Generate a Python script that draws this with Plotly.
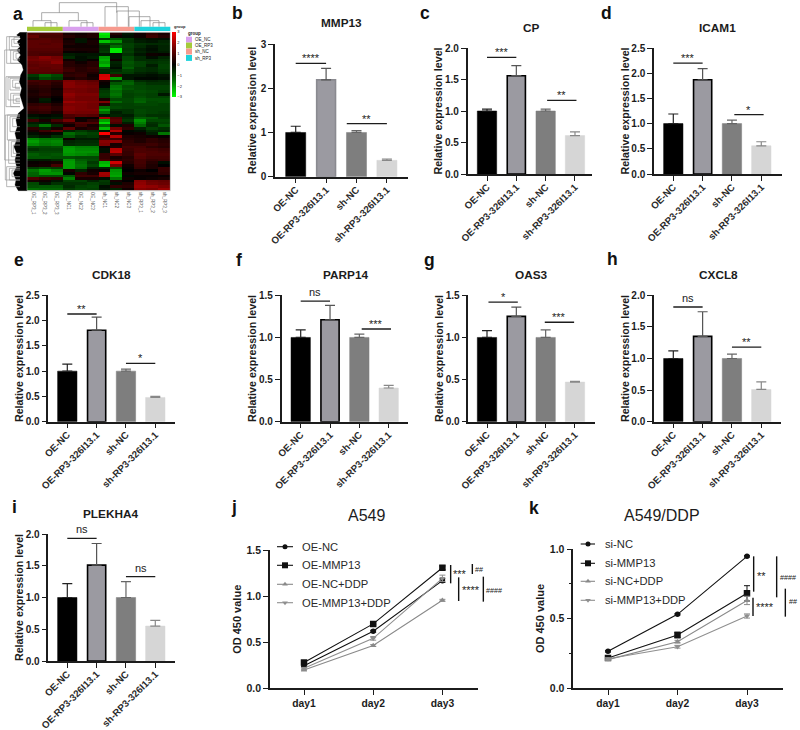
import plotly.graph_objects as go

W, H = 800, 730
FONT = "Liberation Sans"
INK = "#1c1c1c"

# ---------- data ----------
groups = ["OE-NC", "OE-RP3-326I13.1", "sh-NC", "sh-RP3-326I13.1"]

mmp13_mean = [1.0, 2.19, 1.0, 0.37]
mmp13_top = [1.14, 2.45, 1.04, 0.40]
cp_mean = [1.0, 1.56, 1.0, 0.61]
cp_top = [1.03, 1.72, 1.03, 0.67]
icam1_mean = [1.0, 1.87, 1.0, 0.56]
icam1_top = [1.19, 2.09, 1.07, 0.64]
cdk18_mean = [1.0, 1.81, 1.0, 0.48]
cdk18_top = [1.14, 2.07, 1.04, 0.50]
parp14_mean = [1.0, 1.21, 1.0, 0.40]
parp14_top = [1.09, 1.38, 1.04, 0.43]
oas3_mean = [1.0, 1.25, 1.0, 0.47]
oas3_top = [1.08, 1.36, 1.09, 0.48]
cxcl8_mean = [1.0, 1.35, 1.0, 0.51]
cxcl8_top = [1.12, 1.74, 1.07, 0.63]
plekha4_mean = [1.0, 1.51, 1.0, 0.55]
plekha4_top = [1.22, 1.85, 1.25, 0.64]

days = ["day1", "day2", "day3"]
j_names = ["OE-NC", "OE-MMP13", "OE-NC+DDP", "OE-MMP13+DDP"]
j_oe_nc = [0.246, 0.62, 1.17]
j_oe_mmp13 = [0.28, 0.70, 1.31]
j_oe_nc_ddp = [0.20, 0.465, 0.957]
j_oe_mmp13_ddp = [0.217, 0.543, 1.195]
j_err = [[0.01, 0.01, 0.02], [0.01, 0.01, 0.02], [0.01, 0.01, 0.01], [0.01, 0.02, 0.035]]

k_names = ["si-NC", "si-MMP13", "si-NC+DDP", "si-MMP13+DDP"]
k_si_nc = [0.264, 0.53, 0.947]
k_si_mmp13 = [0.216, 0.381, 0.681]
k_si_nc_ddp = [0.204, 0.333, 0.63]
k_si_mmp13_ddp = [0.211, 0.297, 0.518]
k_err = [[0.005, 0.005, 0.005], [0.01, 0.02, 0.055], [0.005, 0.01, 0.03], [0.005, 0.01, 0.015]]

heat_cols = ["OE_RP3_1", "OE_RP3_2", "OE_RP3_3", "OE_NC1", "OE_NC2", "OE_NC3",
             "sh_NC1", "sh_NC2", "sh_NC3", "sh_RP3_1", "sh_RP3_2", "sh_RP3_3"]
heat_rows = [
    [1.0,1.0,1.0,.3,.2,.4,-2.8,.5,-.3,.2,.6,.3],
    [1.3,.9,.9,.5,.3,.4,-2.6,.2,-.2,.2,.8,.5],
    [1.0,1.1,1.0,.2,-.3,.1,-.8,-1.2,-.8,-.3,-.2,-.2],
    [1.2,1.2,1.1,.3,-.3,.3,-2.4,-1.9,-.7,-.4,-.3,-.5],
    [1.2,1.1,1.2,.4,.2,.3,-1.0,-1.0,-.9,-.7,-.6,-.6],
    [1.2,1.2,1.2,.2,.2,.2,-.6,-1.5,-.9,-.6,-.3,-.5],
    [1.1,1.1,1.1,.4,.3,.3,-.7,-2.8,-.8,-.4,-.2,-.5],
    [1.0,1.0,1.0,.1,.1,.2,-.8,-2.8,-.9,-.5,-.3,-.4],
    [1.0,.9,.9,-.4,-.3,-.3,-.3,-.3,-.7,-.3,.2,.1],
    [1.4,1.7,1.5,-.6,-.2,-.4,-2.0,-.3,-1.0,-.6,-.2,-.5],
    [1.5,1.6,1.6,.2,-.2,.1,-2.2,.2,-1.0,-.6,-.6,-.7],
    [1.3,1.4,1.7,.5,.2,.5,-2.0,-.5,-1.2,-.9,-.7,-.8],
    [1.2,1.3,1.3,.5,.4,.5,-2.3,-.4,-1.1,-.9,-.4,-.9],
    [1.3,1.2,1.3,.7,.5,.7,-1.0,-.2,-1.3,-.7,-.6,-.9],
    [1.2,1.2,1.2,.8,.5,.6,-.6,-.6,-.9,-.7,-.6,-.8],
    [1.1,1.1,1.0,.5,.6,.4,-.5,-.8,-.8,-.5,-.4,-.7],
    [-.8,-1.4,-1.0,.6,.7,.2,2.5,.8,-.3,-.3,-.2,-.3],
    [-.5,-1.0,-.8,.3,.5,.3,2.6,-2.0,-.3,-.1,-.1,-.2],
    [.9,.8,.7,1.6,1.4,1.2,.3,-.6,-1.2,-.6,-.5,-.6],
    [.7,.8,.5,1.7,1.5,1.4,.1,-1.2,-1.4,-.9,-.7,-.7],
    [.5,.6,.4,1.7,1.6,1.5,-.1,-1.6,-1.1,-1.0,-.9,-.9],
    [.4,.5,.2,1.5,1.5,1.4,-.6,-1.7,-1.2,-1.0,-.9,-.9],
    [.3,.5,.3,1.6,1.5,1.4,-.8,-1.5,-1.0,-1.1,-1.0,-.8],
    [.4,.6,.3,1.8,1.6,1.6,-.9,-1.6,-.9,-1.0,-.9,-.3],
    [.3,.4,.1,1.7,1.5,1.5,-.8,-1.4,-.9,-1.1,-.9,-.9],
    [.2,-.4,.0,1.6,1.5,1.5,.3,-1.0,-1.0,-1.3,-1.1,-1.1],
    [.2,-.3,.1,1.9,1.7,1.6,1.6,-1.5,-1.0,-1.4,-1.0,-1.1],
    [.6,.7,.4,1.6,1.6,1.5,.4,-.9,-.9,-1.0,-1.0,-.9],
    [.8,.9,.6,1.7,1.6,1.5,-1.5,-1.0,-.9,-.9,-.9,-.9],
    [.7,.8,.6,1.7,1.6,1.6,-2.0,-.7,-.7,-1.0,-.9,-.9],
    [.5,.6,.3,1.6,1.5,1.5,-1.5,-.4,-.7,-1.0,-.9,-.8],
    [-.2,-.1,-.2,1.0,1.2,1.1,-.3,-.5,-.4,-.9,-.7,-.7],
    [-.5,-.3,-.4,.8,-.1,.1,2.0,1.0,-.6,-1.3,-1.2,-.8],
    [.8,.3,.9,1.5,.2,.6,-2.0,1.2,-.8,-1.9,-1.0,-1.0],
    [-.4,-.3,.4,.6,1.0,1.0,-2.6,1.0,-.4,-1.7,-.7,-.9],
    [-.7,-1.6,-.6,.2,.8,.3,-1.4,-.2,.4,-1.4,-.6,-1.2],
    [.6,-.5,.3,1.2,.3,.5,-2.3,1.5,.6,-.5,-.9,-.7],
    [.3,.8,1.2,-.5,-.8,-.6,-.3,2.2,-.1,-.2,-.6,-.5],
    [-.2,.2,-.2,-1.5,-1.1,-.9,3.0,.5,.1,.2,-.4,-1.6],
    [-.5,-.3,-.7,-1.2,-.7,-.8,.6,2.2,.4,.3,.2,.1],
    [-1.8,-1.6,-1.6,.2,-.4,-.4,.9,.8,.5,.4,.6,.4],
    [-2.0,-1.7,-1.8,-.5,-.6,-.6,1.7,1.8,.6,.4,.6,.5],
    [-1.8,-1.6,-1.7,-.6,-.7,-.7,1.6,.3,.7,.7,.8,.6],
    [-1.0,-1.0,-1.1,-1.9,-1.7,-1.7,.1,.4,.9,.9,.6,.5],
    [-.7,-.9,-.9,-2.0,-1.8,-1.8,-.2,2.2,.8,1.0,.9,.8],
    [-1.0,-1.0,-1.0,-2.0,-1.9,-1.9,-.2,2.3,.7,1.0,1.0,.9],
    [-1.3,-1.1,-1.2,-1.9,-1.8,-1.7,.7,1.2,.7,1.2,1.0,1.0],
    [-1.2,-1.2,-1.1,-1.1,-1.0,-1.0,.7,.3,.5,1.1,.9,.9],
    [-.4,-.4,-.6,-1.9,-1.3,-1.1,.9,.5,.6,.9,.7,.8],
    [.1,.2,.3,-2.0,-1.5,-.8,-2.2,2.5,.5,.9,.5,-.2],
    [.2,.3,.9,-2.0,-1.6,-1.0,-2.4,1.5,.2,.8,.4,.0],
    [-.8,-1.0,-.8,-2.0,-1.5,-.5,-.5,-1.0,.1,.7,.4,.7],
    [-1.6,-2.0,-1.7,.3,-.5,.2,.1,-1.9,.0,.2,.0,.7],
    [-1.4,-1.9,-1.9,-.1,.6,.3,2.0,-2.0,.2,.3,.3,.6],
    [-1.3,-1.1,-1.1,-1.2,.8,.8,1.9,-2.1,-.1,.1,.1,.1],
    [1.0,.7,.6,-1.7,.3,.3,-.2,-1.6,.2,.1,.2,.3],
    [.3,.2,-.3,-.9,-.9,-.5,-.8,.3,.0,1.7,1.4,1.3],
    [-1.0,-.3,-.7,-.7,-.7,-.9,-.7,-.2,.4,1.8,1.5,1.4],
    [-1.1,-1.2,-1.2,-.6,-.9,-1.0,-.2,.6,.5,1.9,1.8,1.6],
    [-1.5,-1.4,-1.4,-.8,-1.0,-.9,-.3,-.5,.2,1.7,1.6,1.9],
]
heat_groups = ["OE_NC", "OE_RP3", "sh_NC", "sh_RP3"]
heat_group_colors = ["#d9a0ee", "#a5cb3a", "#f79a8e", "#1fd3dc"]

# ---------- styling of the bar panels ----------
bar_fill = ["#000000", "#9b9aa1", "#7e7e7e", "#d6d6d6"]
bar_edge = ["#000000", "#000000", "#7e7e7e", "#d6d6d6"]
err_col = ["#222222", "#555555", "#666666", "#888888"]


def dx(a, b):
    return [a / W, b / W]


def dy(top, bottom):
    return [1 - bottom / H, 1 - top / H]


fig = go.Figure()
shapes, annos = [], []
layout = {}


def pline(x0, y0, x1, y1, color=INK, width=1.0):
    shapes.append(dict(type="line", xref="paper", yref="paper", x0=x0 / W, x1=x1 / W,
                       y0=1 - y0 / H, y1=1 - y1 / H, line=dict(color=color, width=width)))


def ptext(x, y, text, size, bold=False, color=INK, xanchor="center", angle=0):
    annos.append(dict(xref="paper", yref="paper", x=x / W, y=1 - y / H, text=f"<b>{text}</b>" if bold else text,
                      showarrow=False, xanchor=xanchor, yanchor="middle", textangle=angle,
                      font=dict(family=FONT, size=size, color=color)))


# name, mean, top, ymax, dtick, axis x, y0 px, ytop px, c0, spacing, axis end, brackets, title pos, second edge
panels = [
    ("MMP13", mmp13_mean, mmp13_top, 3, 1, 275, 176.7, 44, 295.7, 30.4, 408,
     [(0, 1, 2.56, "****"), (1.68, 3, 1.2, "**")], (341, 23), "#8a8a90"),
    ("CP", cp_mean, cp_top, 2, 0.5, 467.7, 174, 48, 487, 29.33, 591.7,
     [(0, 1, 1.85, "***"), (2.05, 3.05, 1.17, "**")], (531, 28), "#000000"),
    ("ICAM1", icam1_mean, icam1_top, 2.5, 0.5, 654, 174, 48, 673.3, 29.33, 781.7,
     [(0, 1, 2.2, "***"), (2.08, 3.08, 1.18, "*")], (717, 28), "#000000"),
    ("CDK18", cdk18_mean, cdk18_top, 2.5, 0.5, 48.3, 421.7, 295.3, 67.3, 29.33, 175,
     [(0, 1, 2.13, "**"), (2, 3, 1.155, "*")], (111, 275), "#000000"),
    ("PARP14", parp14_mean, parp14_top, 1.5, 0.5, 281.7, 421.7, 295.3, 300.7, 29.33, 408,
     [(0, 1, 1.43, "ns"), (2.08, 3.08, 1.10, "***")], (345, 275), "#000000"),
    ("OAS3", oas3_mean, oas3_top, 1.5, 0.5, 468.3, 421.7, 295.3, 487, 29.33, 594.7,
     [(0.05, 1.05, 1.42, "*"), (1.97, 2.97, 1.18, "***")], (531, 275), "#000000"),
    ("CXCL8", cxcl8_mean, cxcl8_top, 2, 0.5, 654, 421.7, 295.3, 673.3, 29.33, 781,
     [(0, 1, 1.815, "ns"), (2, 3, 1.18, "**")], (718, 275), "#000000"),
    ("PLEKHA4", plekha4_mean, plekha4_top, 2, 0.5, 48.3, 661, 534, 67.3, 29.33, 175,
     [(0, 1, 1.93, "ns"), (2, 3, 1.33, "ns")], (111, 514), "#000000"),
]

ax_id = 1
for name, mean, top, ymax, dtick, ax_x, y0, ytop, c0, sp, end, brackets, tpos, edge2 in panels:
    xn, yn = f"x{ax_id}", f"y{ax_id}"
    for i, g in enumerate(groups):
        edge = edge2 if i == 1 else bar_edge[i]
        fig.add_trace(go.Bar(
            x=[g], y=[mean[i]], xaxis=xn, yaxis=yn, width=0.66 if i != 1 else 0.62, name=f"{name} {g}",
            marker=dict(color=bar_fill[i], line=dict(color=edge, width=1.6 if i == 1 else 0.5)),
            error_y=dict(type="data", symmetric=False, array=[top[i] - mean[i]], arrayminus=[0],
                         color=err_col[i], thickness=1.2, width=5),
            showlegend=False))
    tick_fmt = "d" if dtick == 1 else ".1f"
    layout[f"xaxis{ax_id}"] = dict(
        domain=dx(ax_x, end), anchor=yn, type="category", categoryorder="array", categoryarray=groups,
        range=[(ax_x - c0) / sp, (end - c0) / sp], showgrid=False, zeroline=False,
        showline=True, linecolor=INK, linewidth=1.5, ticks="outside", ticklen=5, tickcolor=INK, tickwidth=1.3,
        tickangle=-45, ticklabelstandoff=-3, tickprefix="<b>", ticksuffix="</b>",
        tickfont=dict(family=FONT, size=9.7, color="#2a2a2a"))
    layout[f"yaxis{ax_id}"] = dict(
        domain=dy(ytop, y0), anchor=xn, range=[0, ymax], dtick=dtick, tickformat=tick_fmt, showgrid=False, zeroline=False,
        showline=True, linecolor=INK, linewidth=1.5, ticks="outside", ticklen=5, tickcolor=INK, tickwidth=1.3,
        tickfont=dict(family=FONT, size=10, color=INK), tickprefix="<b>", ticksuffix="</b>",
        title=dict(text="<b>Relative expression level</b>", standoff=0 if dtick != 1 else 2,
                   font=dict(family=FONT, size=10.7, color=INK)))
    for a, b, yv, lab in brackets:
        shapes.append(dict(type="line", xref=xn, yref=yn, x0=a, x1=b, y0=yv, y1=yv,
                           line=dict(color=INK, width=1.3)))
        ns = lab == "ns"
        annos.append(dict(xref=xn, yref=yn, x=(a + b) / 2, y=yv, text=lab, showarrow=False,
                          yanchor="bottom", yshift=1 if ns else -3,
                          font=dict(family=FONT, size=11, color="#222222")))
    ptext(tpos[0], tpos[1], name, 11.8, bold=True)
    ax_id += 1

# ---------- line panels ----------
line_col = ["#111111", "#111111", "#8a8a8a", "#8f8f8f"]
symbols = ["circle", "square", "triangle-up", "triangle-down"]
sizes = [5.5, 6.5, 5.5, 5.5]

line_panels = [
    ("A549", [j_oe_nc, j_oe_mmp13, j_oe_nc_ddp, j_oe_mmp13_ddp], j_names, j_err, 1.5, 0.5, 270, 688.3, 550.3,
     304, 69.2, 478.3, (366, 515), (277, 293), 300, [546.7, 565.3, 584.3, 602.7]),
    ("A549/DDP", [k_si_nc, k_si_mmp13, k_si_nc_ddp, k_si_mmp13_ddp], k_names, k_err, 1.0, 0.5, 573.3, 688, 549,
     608, 69.5, 782.7, (662, 515), (580.7, 595), 603.3, [544, 563.3, 581.3, 600.3]),
]
for title, series, names, errs, ymax, dtick, ax_x, y0, ytop, c0, sp, end, tpos, key, tx, ky in line_panels:
    xn, yn = f"x{ax_id}", f"y{ax_id}"
    for i, vals in enumerate(series):
        fig.add_trace(go.Scatter(
            x=days, y=vals, mode="lines+markers", xaxis=xn, yaxis=yn, name=names[i],
            line=dict(color=line_col[i], width=1.1),
            marker=dict(color=line_col[i], symbol=symbols[i], size=sizes[i]),
            error_y=dict(type="data", array=errs[i], color=line_col[i], thickness=1, width=3),
            showlegend=False))
    minor = dict(tickvals=[0.25, 0.75], ticklen=3, tickcolor=INK, ticks="outside") if ymax == 1.0 else None
    layout[f"xaxis{ax_id}"] = dict(
        domain=dx(ax_x, end), anchor=yn, type="category", categoryorder="array", categoryarray=days,
        range=[(ax_x - c0) / sp, (end - c0) / sp], showgrid=False, zeroline=False,
        showline=True, linecolor=INK, linewidth=1.5, ticks="outside", ticklen=5, tickcolor=INK, tickwidth=1.3,
        tickfont=dict(family=FONT, size=10.3, color=INK), tickprefix="<b>", ticksuffix="</b>")
    ya = dict(
        domain=dy(ytop, y0), anchor=xn, range=[0, ymax], dtick=dtick, tickformat=".1f", showgrid=False, zeroline=False,
        showline=True, linecolor=INK, linewidth=1.5, ticks="outside", ticklen=5, tickcolor=INK, tickwidth=1.3,
        tickfont=dict(family=FONT, size=10.5, color=INK), tickprefix="<b>", ticksuffix="</b>",
        title=dict(text="<b>OD 450 value</b>", standoff=3, font=dict(family=FONT, size=11, color=INK)))
    if minor:
        ya["minor"] = minor
    layout[f"yaxis{ax_id}"] = ya
    ptext(tpos[0], tpos[1], title, 16)
    # legend keys
    for i, nm in enumerate(names):
        pline(key[0], ky[i], key[1], ky[i], line_col[i], 1.1)
        ptext(tx, ky[i], nm, 11.2, xanchor="left", color="#2a2a2a")
    ax_id += 1

# legend key markers on a hidden full-figure axis
ovx, ovy = f"x{ax_id}", f"y{ax_id}"
layout[f"xaxis{ax_id}"] = dict(domain=[0, 1], range=[0, W], visible=False, anchor=ovy, fixedrange=True)
layout[f"yaxis{ax_id}"] = dict(domain=[0, 1], range=[H, 0], visible=False, anchor=ovx, fixedrange=True)
for keyx, ky in ((285, [546.7, 565.3, 584.3, 602.7]), (588, [544, 563.3, 581.3, 600.3])):
    for i in range(4):
        fig.add_trace(go.Scatter(x=[keyx], y=[ky[i]], mode="markers", xaxis=ovx, yaxis=ovy, showlegend=False,
                                 marker=dict(color=line_col[i], symbol=symbols[i], size=sizes[i] - 0.5)))

# significance bars of panels j, k
sig_j = [(692, 225, 280, "***", 721, 247), (757, 222, 252, "##", 778, 238),
         (716, 262, 333, "****", 753, 295), (790, 260, 335, "####", 822, 300)]
sig_k = [(731, 199, 305, "**", 753, 252), (800, 199, 322, "####", 833, 263),
         (729, 323, 378, "****", 764, 346), (826, 296, 380, "##", 848, 333)]
for sig, ox in ((sig_j, 220), (sig_k, 510)):
    for x, a, b, lab, tx, ty in sig:
        pline(ox + x / 3, 490 + a / 3, ox + x / 3, 490 + b / 3, "#111111", 1.4)
        ptext(ox + tx / 3, 490 + ty / 3 + (2 if "*" in lab else 0), lab, 7.2 if "#" in lab else 11, color="#222222")

# ---------- heatmap ----------
hx0, hx1, hy0, hy1 = 27, 170.3, 32.3, 190.7
fig.add_trace(go.Heatmap(
    z=heat_rows, x=heat_cols, xaxis="x20", yaxis="y20", zmin=-3, zmax=3,
    colorscale=[[0, "#00ff00"], [0.25, "#006a00"], [0.5, "#000000"], [0.75, "#720000"], [1, "#ff0000"]],
    colorbar=dict(x=172.3 / W, xanchor="left", y=1 - 32 / H, yanchor="top", lenmode="pixels", len=65,
                  thickness=4.4, thicknessmode="pixels", outlinewidth=0, tickvals=[3, 2, 1, 0, -1, -2, -3],
                  ticks="", ticklabelposition="outside", xpad=0, ypad=0,
                  tickfont=dict(family=FONT, size=4, color=INK))))
layout["xaxis20"] = dict(domain=dx(hx0, hx1), anchor="y20", showgrid=False, zeroline=False, tickangle=90, ticks="",
                         tickfont=dict(family=FONT, size=4.5, color="#555555"), showline=False, ticklen=0)
layout["yaxis20"] = dict(domain=dy(hy0, hy1), anchor="x20", autorange="reversed", showticklabels=False, ticks="",
                         showgrid=False, zeroline=False)

# column annotation bar
anno_order = [1, 0, 2, 3]
cw = (hx1 - hx0) / 4
for i, g in enumerate(anno_order):
    shapes.append(dict(type="rect", xref="paper", yref="paper", x0=(hx0 + i * cw) / W, x1=(hx0 + (i + 1) * cw) / W,
                       y0=1 - 26.7 / H, y1=1 - 31 / H, fillcolor=heat_group_colors[g], line=dict(width=0)))
shapes.append(dict(type="rect", xref="paper", yref="paper", x0=hx0 / W, x1=hx1 / W, y0=1 - hy0 / H, y1=1 - hy1 / H,
                   line=dict(color="#aaaaaa", width=0.6)))

# group legend
ptext(186, 33.5, "group", 4.5, xanchor="left", bold=True)
for i, (ya_, g) in enumerate(zip([36.7, 42.6, 48.6, 55], heat_groups)):
    shapes.append(dict(type="rect", xref="paper", yref="paper", x0=186 / W, x1=192 / W, y0=1 - ya_ / H,
                       y1=1 - (ya_ + 5.9) / H, fillcolor=heat_group_colors[i], line=dict(width=0)))
    ptext(193, ya_ + 3, g, 4.5, xanchor="left")
ptext(171.5, 26.5, "group", 4, xanchor="left", bold=True)

# top dendrogram, in zoomed px (x, y)/3
dend_top = [
    (135, 171, 68, 80), (99, 153, 62, 80), (243, 279, 68, 80), (207, 261, 62, 80),
    (125, 235, 38, 62), (178, 350, 8, 38),
    (459, 495, 68, 80), (423, 477, 62, 80), (387, 450, 50, 80), (351, 418, 33, 80), (315, 385, 20, 80),
]
for a, b, yt, yb in dend_top:
    c = "#888888"
    pline(a / 3, yt / 3, b / 3, yt / 3, c, 0.7)
    pline(a / 3, yt / 3, a / 3, yb / 3, c, 0.7)
    pline(b / 3, yt / 3, b / 3, yb / 3, c, 0.7)

# left dendrogram: dense black fan plus sparse grey branches
fan_edge_x = [60, 50, 62, 52, 60, 50, 62, 52, 66, 70, 62, 58, 65, 60, 66, 72, 55, 48, 52, 45, 50, 42, 50, 45, 50, 40, 48, 45, 55]
fan_edge_y = [97, 105, 115, 125, 140, 150, 165, 180, 195, 210, 225, 245, 265, 285, 305, 325, 340, 360, 380, 400, 420, 440, 460, 480, 500, 520, 540, 555, 572]
fig.add_trace(go.Scatter(
    x=[v / 3 for v in fan_edge_x] + [81 / 3, 81 / 3], y=[v / 3 for v in fan_edge_y] + [572 / 3, 97 / 3],
    mode="lines", fill="toself", fillcolor="#000000", line=dict(color="#000000", width=0.3),
    xaxis=ovx, yaxis=ovy, showlegend=False, hoverinfo="skip"))
dend_left = [
    (14, 150, 480), (20, 110, 190), (28, 110, 150), (35, 118, 140), (42, 112, 130), (32, 150, 190), (40, 155, 180), (48, 160, 175),
    (18, 230, 320), (24, 232, 300), (30, 235, 270), (38, 240, 262), (46, 250, 265), (32, 280, 320), (40, 285, 310), (48, 295, 305),
    (16, 345, 540), (22, 345, 420), (30, 350, 395), (38, 355, 380), (26, 420, 490), (34, 425, 470), (40, 435, 460),
    (20, 500, 560), (28, 505, 540), (36, 510, 530),
]
for xl, a, b in dend_left:
    c = "#999999"
    pline(xl / 3, a / 3, xl / 3, b / 3, c, 0.7)
    pline(xl / 3, a / 3, 60 / 3, a / 3, c, 0.7)
    pline(xl / 3, b / 3, 60 / 3, b / 3, c, 0.7)

# panel letters
for lab, x, y in [("a", 18, 14), ("b", 237, 13), ("c", 425, 13), ("d", 606, 13), ("e", 19, 260), ("f", 239, 260),
                  ("g", 429, 260), ("h", 612, 259), ("i", 14, 507), ("j", 234, 507), ("k", 534, 508)]:
    ptext(x, y, lab, 17.5, bold=True, color="#111111")

layout.update(dict(width=W, height=H, margin=dict(l=0, r=0, t=0, b=0, autoexpand=False), paper_bgcolor="white",
                   plot_bgcolor="rgba(0,0,0,0)",
                   barmode="overlay", showlegend=False, shapes=shapes, annotations=annos,
                   font=dict(family=FONT, color=INK)))
fig.update_layout(**layout)
fig.write_html("out.html", config=dict(displayModeBar=False),
               post_script="document.body.style.margin='0';document.documentElement.style.overflow='hidden';")
